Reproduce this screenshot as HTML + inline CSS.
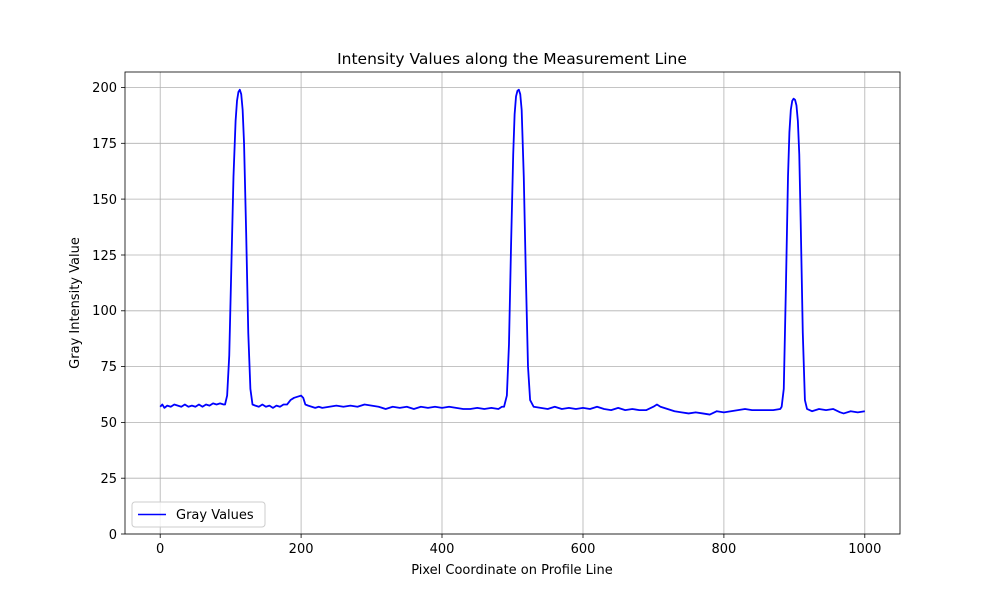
<!DOCTYPE html>
<html><head><meta charset="utf-8"><style>
body{margin:0;background:#fff;}
svg{display:block;font-family:"DejaVu Sans","Liberation Sans",sans-serif;}
</style></head><body>
<svg width="1000" height="600" viewBox="0 0 1000 600">
<rect width="1000" height="600" fill="#fff"/>
<g stroke="#b0b0b0" stroke-width="0.8">
<line x1="160.2" y1="72" x2="160.2" y2="534"/><line x1="301.1" y1="72" x2="301.1" y2="534"/><line x1="442" y1="72" x2="442" y2="534"/><line x1="583" y1="72" x2="583" y2="534"/><line x1="723.9" y1="72" x2="723.9" y2="534"/><line x1="864.8" y1="72" x2="864.8" y2="534"/>
<line x1="125" y1="534" x2="900" y2="534"/><line x1="125" y1="478.2" x2="900" y2="478.2"/><line x1="125" y1="422.4" x2="900" y2="422.4"/><line x1="125" y1="366.6" x2="900" y2="366.6"/><line x1="125" y1="310.8" x2="900" y2="310.8"/><line x1="125" y1="255" x2="900" y2="255"/><line x1="125" y1="199.1" x2="900" y2="199.1"/><line x1="125" y1="143.3" x2="900" y2="143.3"/><line x1="125" y1="87.5" x2="900" y2="87.5"/>
</g>
<polyline transform="matrix(0.7046 0 0 -2.2325 160.2 534)" vector-effect="non-scaling-stroke" fill="none" stroke="#0000ff" stroke-width="1.8" stroke-linejoin="round" points="0,57 3,58 6,56.5 10,57.5 15,57 20,58 25,57.5 30,57 35,58 40,57 45,57.5 50,57 55,58 60,57 65,58 70,57.5 75,58.5 80,58 85,58.5 90,58 92,58 95,62 98,80 101,120 104,160 107,185 109,194 111,198 113,199 115,197 117,190 119,175 122,135 125,90 128,65 131,58 135,57.5 140,57 145,58 150,57 155,57.5 160,56.5 165,57.5 170,57 175,58 180,58 185,60 190,61 195,61.5 200,62 203,61 206,58 210,57.5 215,57 220,56.5 225,57 230,56.5 240,57 250,57.5 260,57 270,57.5 280,57 290,58 300,57.5 310,57 320,56 330,57 340,56.5 350,57 360,56 370,57 380,56.5 390,57 400,56.5 410,57 420,56.5 430,56 440,56 450,56.5 460,56 470,56.5 480,56 485,57 488,57 492,62 495,85 498,130 501,170 503,188 505,196 507,198.5 509,199 511,197 513,190 516,160 519,115 522,75 525,60 530,57 540,56.5 550,56 560,57 570,56 580,56.5 590,56 600,56.5 610,56 620,57 630,56 640,55.5 650,56.5 660,55.5 670,56 680,55.5 690,55.5 700,57 705,58 710,57 720,56 730,55 740,54.5 750,54 760,54.5 770,54 780,53.5 790,55 800,54.5 810,55 820,55.5 830,56 840,55.5 850,55.5 860,55.5 870,55.5 880,56 882,57 885,65 888,110 891,160 893,180 895,190 897,194 899,195 901,194.5 903,192 905,185 907,170 909,140 912,90 915,60 918,56 925,55 935,56 945,55.5 955,56 965,54.5 970,54 980,55 990,54.5 1000,55"/>
<rect x="125" y="72" width="775" height="462" fill="none" stroke="#000" stroke-width="0.8"/>
<g stroke="#000" stroke-width="0.8">
<line x1="160.2" y1="534" x2="160.2" y2="538"/><line x1="301.1" y1="534" x2="301.1" y2="538"/><line x1="442" y1="534" x2="442" y2="538"/><line x1="583" y1="534" x2="583" y2="538"/><line x1="723.9" y1="534" x2="723.9" y2="538"/><line x1="864.8" y1="534" x2="864.8" y2="538"/>
<line x1="121" y1="534" x2="125" y2="534"/><line x1="121" y1="478.2" x2="125" y2="478.2"/><line x1="121" y1="422.4" x2="125" y2="422.4"/><line x1="121" y1="366.6" x2="125" y2="366.6"/><line x1="121" y1="310.8" x2="125" y2="310.8"/><line x1="121" y1="255" x2="125" y2="255"/><line x1="121" y1="199.1" x2="125" y2="199.1"/><line x1="121" y1="143.3" x2="125" y2="143.3"/><line x1="121" y1="87.5" x2="125" y2="87.5"/>
</g>
<g font-size="13" fill="#000" text-anchor="middle">
<text x="160.2" y="553">0</text><text x="301.1" y="553">200</text><text x="442" y="553">400</text><text x="583" y="553">600</text><text x="723.9" y="553">800</text><text x="864.8" y="553">1000</text>
</g>
<g font-size="13" fill="#000" text-anchor="end">
<text x="117" y="539">0</text><text x="117" y="483">25</text><text x="117" y="427">50</text><text x="117" y="371">75</text><text x="117" y="315">100</text><text x="117" y="260">125</text><text x="117" y="204">150</text><text x="117" y="148">175</text><text x="117" y="92">200</text>
</g>
<text x="512" y="574" font-size="13" text-anchor="middle">Pixel Coordinate on Profile Line</text>
<text transform="translate(79 303) rotate(-90)" font-size="13" text-anchor="middle">Gray Intensity Value</text>
<text x="512" y="64" font-size="15.5" text-anchor="middle">Intensity Values along the Measurement Line</text>
<rect x="132" y="502" width="133" height="25" rx="3" fill="#fff" fill-opacity="0.8" stroke="#cccccc"/>
<line x1="138" y1="514.5" x2="166" y2="514.5" stroke="#0000ff" stroke-width="1.5"/>
<text x="176" y="519" font-size="13">Gray Values</text>
</svg>
</body></html>
